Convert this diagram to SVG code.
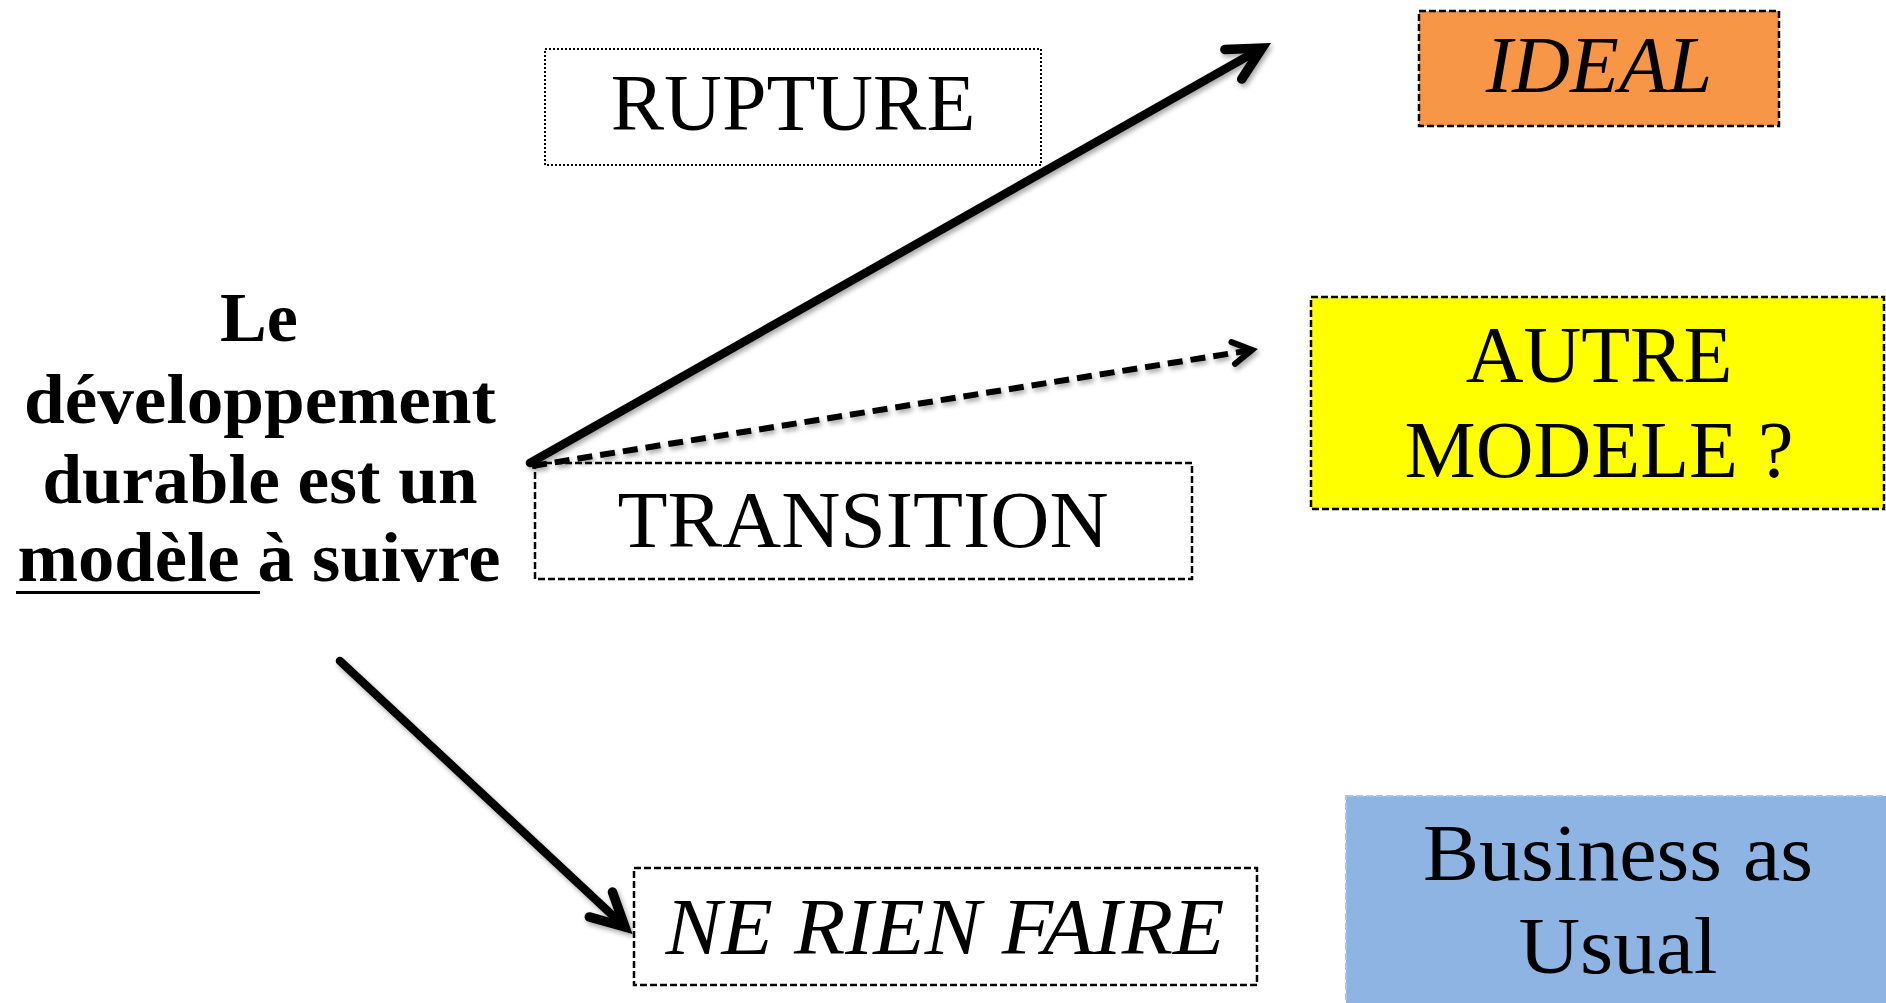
<svg xmlns="http://www.w3.org/2000/svg" width="1886" height="1003" viewBox="0 0 1886 1003">
<style>
.t{font-family:"Liberation Serif","Times New Roman",serif;font-size:80px;fill:#000;text-anchor:middle}
.it{font-style:italic}
.b{font-weight:bold;font-size:70px}
.box{stroke:#000;stroke-width:2.5;stroke-dasharray:7 3}
.dot{fill:#fff;stroke:#000;stroke-width:2;stroke-dasharray:2 2}
.arr{fill:none;stroke:#000;stroke-width:8.5;stroke-linecap:round}
.dash{fill:none;stroke:#000;stroke-width:6;stroke-dasharray:15 8}
</style>
<defs>
<filter id="sh" x="-10%" y="-10%" width="120%" height="120%">
<feDropShadow dx="2" dy="3" stdDeviation="2.5" flood-color="#000" flood-opacity="0.35"/>
</filter>
<marker id="head" markerUnits="userSpaceOnUse" viewBox="-45 -25 55 50" refX="0" refY="0" markerWidth="55" markerHeight="50" orient="auto" overflow="visible">
<path d="M -33 -17 L 0 0 L -33 17" fill="none" stroke="#000" stroke-width="9.5" stroke-linecap="round" stroke-linejoin="miter"/>
</marker>
<marker id="head2" markerUnits="userSpaceOnUse" viewBox="-30 -15 35 30" refX="0" refY="0" markerWidth="35" markerHeight="30" orient="auto" overflow="visible">
<path d="M -19 -11 L 0 0 L -19 11" fill="none" stroke="#000" stroke-width="6" stroke-linecap="round"/>
</marker>
</defs>
<rect width="1886" height="1003" fill="#fff"/>

<g id="source">
<text class="t b" x="259" y="341">Le</text>
<text class="t b" x="260" y="423" textLength="472" lengthAdjust="spacingAndGlyphs">développement</text>
<text class="t b" x="260" y="503" textLength="435" lengthAdjust="spacingAndGlyphs">durable est un</text>
<text class="t b" x="259" y="581" textLength="483" lengthAdjust="spacingAndGlyphs">modèle à suivre</text>
<rect x="16" y="591" width="244" height="3" fill="#000"/>
</g>

<g id="rupture">
<rect class="dot" x="545" y="49" width="496" height="116"/>
<text class="t" x="793" y="130">RUPTURE</text>
</g>

<g id="ideal">
<rect class="box" x="1419" y="11" width="360" height="115" fill="#F79646"/>
<text class="t it" x="1599" y="92">IDEAL</text>
</g>

<g id="autre">
<rect class="box" x="1311" y="297" width="573" height="212" fill="#FFFF00"/>
<text class="t" x="1599" y="382">AUTRE</text>
<text class="t" x="1599" y="477">MODELE ?</text>
</g>

<g id="transition">
<rect class="box" x="535" y="463" width="657" height="116" fill="#fff"/>
<text class="t" x="863" y="547" textLength="491" lengthAdjust="spacingAndGlyphs">TRANSITION</text>
</g>

<g id="nerien">
<rect class="box" x="634" y="868" width="623" height="117" fill="#fff"/>
<text class="t it" x="945" y="954" textLength="559" lengthAdjust="spacingAndGlyphs">NE RIEN FAIRE</text>
</g>

<g id="business">
<rect x="1346" y="796" width="545" height="212" fill="#8EB4E3" stroke="#A9C6EA" stroke-width="2" stroke-dasharray="7 3"/>
<text class="t" x="1618" y="880" textLength="390" lengthAdjust="spacingAndGlyphs">Business as</text>
<text class="t" x="1618" y="973" textLength="199" lengthAdjust="spacingAndGlyphs">Usual</text>
</g>

<g id="connectors" filter="url(#sh)">
<line class="arr" x1="530" y1="463" x2="1262" y2="48" marker-end="url(#head)"/>
<line class="dash" x1="532" y1="466" x2="1252" y2="350" marker-end="url(#head2)"/>
<line class="arr" x1="340" y1="661" x2="625" y2="927" marker-end="url(#head)"/>
</g>
</svg>
